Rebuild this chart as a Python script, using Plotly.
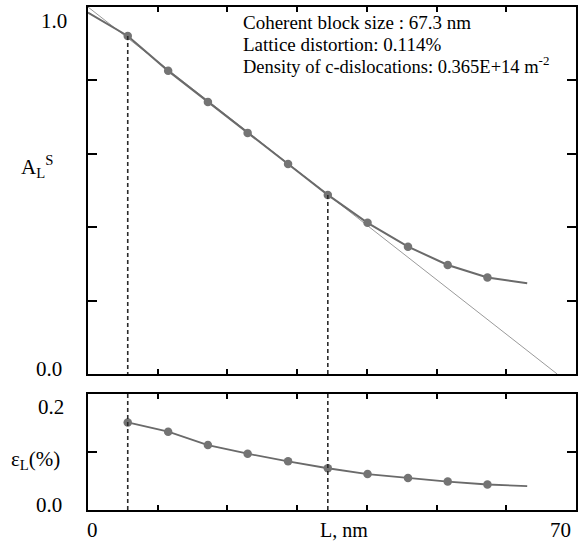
import plotly.graph_objects as go
from plotly.subplots import make_subplots

# Fourier length L (nm) at which the coefficients were evaluated
L_nm = [0.0, 5.7, 11.5, 17.2, 22.9, 28.7, 34.4, 40.1, 45.9, 51.6, 57.3, 63.0]
# size Fourier coefficients A_L^S
A_LS = [0.985, 0.921, 0.826, 0.741, 0.657, 0.572, 0.488, 0.412, 0.347, 0.297, 0.263, 0.247]
# mean-square strain eps_L (%)
L_eps = [5.7, 11.5, 17.2, 22.9, 28.7, 34.4, 40.1, 45.9, 51.6, 57.3, 63.0]
eps_L = [0.151, 0.135, 0.112, 0.097, 0.084, 0.072, 0.062, 0.055, 0.049, 0.044, 0.041]
# initial-slope tangent: A = 1 at L = 0, A = 0 at the coherent block size
tangent_L = [0.0, 67.3]
tangent_A = [1.0, 0.0]
# lengths marked with vertical guides
guide_L = [5.7, 34.4]

W, H = 582, 541
ML, MR, MT, MB = 88, 4, 7, 31
PW, PH = W - ML - MR, H - MT - MB

def px(x):
    return (x - ML) / PW

def py(y):
    return (H - MB - y) / PH

fig = make_subplots(rows=2, cols=1, shared_xaxes=False, vertical_spacing=0.0)

serif = "Liberation Serif"
line_col = "#6a6a6a"
mark_col = "#747474"

# tangent line
fig.add_trace(go.Scatter(x=tangent_L, y=tangent_A, mode="lines",
                         line=dict(color="#9a9a9a", width=1), showlegend=False), row=1, col=1)
# A_L^S curve
fig.add_trace(go.Scatter(x=L_nm, y=A_LS, mode="lines", line=dict(color=line_col, width=2),
                         showlegend=False), row=1, col=1)
fig.add_trace(go.Scatter(x=L_nm[1:-1], y=A_LS[1:-1], mode="markers",
                         marker=dict(color=mark_col, size=8.5), showlegend=False), row=1, col=1)
# eps_L curve
fig.add_trace(go.Scatter(x=L_eps, y=eps_L, mode="lines", line=dict(color=line_col, width=1.8),
                         showlegend=False), row=2, col=1)
fig.add_trace(go.Scatter(x=L_eps[:-1], y=eps_L[:-1], mode="markers",
                         marker=dict(color=mark_col, size=8.5), showlegend=False), row=2, col=1)

# vertical dashed guides
guide_style = dict(color="#2a2a2a", width=1.6, dash="4px,3px")
for g in guide_L:
    a = A_LS[L_nm.index(g)]
    fig.add_trace(go.Scatter(x=[g, g], y=[a, 0], mode="lines", line=guide_style,
                             showlegend=False), row=1, col=1)
    fig.add_trace(go.Scatter(x=[g, g], y=[0, 0.2], mode="lines", line=guide_style,
                             showlegend=False), row=2, col=1)

axis_common = dict(showline=True, linecolor="black", linewidth=1.5, mirror="ticks",
                   ticks="inside", tickcolor="black", tickwidth=1.5,
                   showgrid=False, zeroline=False, showticklabels=False)

fig.update_xaxes(range=[0, 70], tickvals=[10, 20, 30, 40, 50, 60], ticklen=5, **axis_common)
fig.update_yaxes(range=[0, 1.0], tickvals=[0.2, 0.4, 0.6, 0.8], ticklen=9,
                 domain=[py(374), 1.0], row=1, col=1, **axis_common)
fig.update_yaxes(range=[0, 0.2], tickvals=[0.1], ticklen=9,
                 domain=[0.0, py(394)], row=2, col=1, **axis_common)

anns = []

def label(text, x, y, xanchor="center", yanchor="middle", size=20):
    anns.append(dict(text=text, x=px(x), y=py(y), xref="paper", yref="paper",
                     xanchor=xanchor, yanchor=yanchor, showarrow=False,
                     font=dict(family=serif, size=size, color="black")))

# tick labels
label("1.0", 69, 21, xanchor="right", size=21)
label("0.0", 64, 369, xanchor="right", size=21)
label("0.2", 66, 407, xanchor="right", size=21)
label("0.0", 64, 505, xanchor="right", size=21)
label("0", 93, 530, size=21)
label("70", 562, 530, size=21)
label("L, nm", 345, 530, size=20)
# axis titles
label("A<sub>L</sub><sup>S</sup>", 19, 166, xanchor="left", size=21)
label("ε<sub>L</sub>(%)", 9, 460, xanchor="left", size=21)
# fit results
label("Coherent block size : 67.3 nm", 242, 23, xanchor="left", size=19)
label("Lattice distortion: 0.114%", 242, 44, xanchor="left", size=19)
label("Density of c-dislocations: 0.365E+14 m<sup>-2</sup>", 242, 65, xanchor="left", size=18.5)

fig.update_layout(width=W, height=H, margin=dict(l=ML, r=MR, t=MT, b=MB),
                  font=dict(family=serif, size=18, color="black"),
                  paper_bgcolor="white", plot_bgcolor="white", annotations=anns)

fig.write_html("out.html")
